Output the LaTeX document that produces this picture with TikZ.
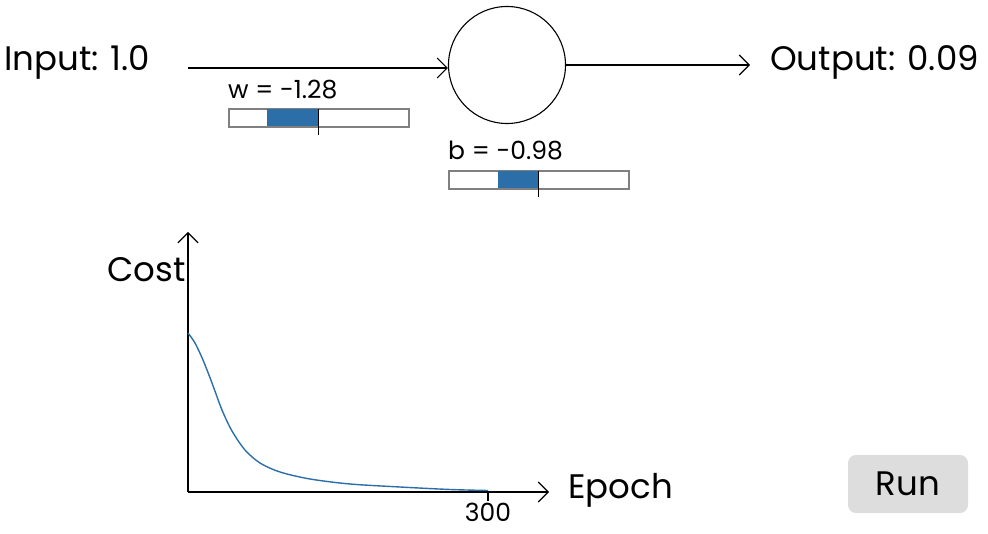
\documentclass[tikz,border=0pt]{standalone}
\usepackage{fontspec}
\setmainfont{Poppins}
\usepackage{xcolor}
\usetikzlibrary{arrows.meta, positioning}

\definecolor{barblue}{RGB}{44,111,168}
\definecolor{btngray}{RGB}{221,221,221}

\begin{document}
\begin{tikzpicture}[
    x=1pt, y=-1pt,
    big/.style={font=\fontsize{34}{38}\selectfont, inner sep=0pt},
    small/.style={font=\fontsize{25}{28}\selectfont, inner sep=0pt},
    arr/.style={-{Straight Barb[length=10pt, width=20pt]}, line width=1.1pt},
    slider/.style={draw=gray, line width=1.6pt, minimum width=180pt, minimum height=18pt,
                   inner sep=0pt},
    fillbar/.style={fill=barblue, inner sep=0pt, minimum height=17pt},
    tick/.style={line width=1.2pt},
    costline/.style={draw=barblue, line width=1.4pt},
    btn/.style={fill=btngray, rounded corners=8pt, minimum width=120pt, minimum height=58pt,
                font=\fontsize{34}{38}\selectfont},
  ]
  \useasboundingbox (0,0) rectangle (988,534);

  % neuron
  \node[draw, circle, line width=1.1pt, minimum size=117pt, inner sep=0pt] (neuron) at (507,65) {};
  \node[big, anchor=west] (inp) at (4,62) {Input: 1.0};
  \node[big, anchor=east] (outp) at (979,62) {Output: 0.09};

  \coordinate (inarrow) at (188,68);
  \draw[arr] (inarrow) -- (neuron.west |- inarrow);
  \draw[arr, shorten >=20pt] (neuron.east) -- (outp.west |- neuron.east);

  % weight slider
  \node[small, anchor=south west] (wlab) at (228,99) {w = -1.28};
  \node[slider, anchor=north west] (wbar) at (228,108) {};
  \node[fillbar, anchor=north west, minimum width=51pt] (wfill) at (267,108.7) {};
  \draw[tick] (wfill.north east) -- ++(0,26);

  % bias slider
  \node[small, anchor=south west] (blab) at (448,160) {b = -0.98};
  \node[slider, anchor=north west] (bbar) at (448,170) {};
  \node[fillbar, anchor=north west, minimum width=40pt] (bfill) at (498,170.7) {};
  \draw[tick] (bfill.north east) -- ++(0,26);

  % cost plot
  \coordinate (origin) at (188,492);
  \coordinate (ytop) at (188,232);
  \coordinate (xend) at (549,492);
  \draw[arr] (origin) -- (ytop);
  \draw[arr] (origin) -- (xend);
  \node[big, anchor=east] (costlab) at (186,270) {Cost};
  \node[big, anchor=west] (epochlab) at (568,490) {Epoch};
  \draw[tick] (488,492) -- (488,501) node[small, anchor=north, yshift=-1pt] (maxep) {300};

  \draw[costline] plot[smooth] coordinates {(188,333) (195,343) (203,360) (212,383)
    (222,410) (232,431) (245,450) (260,463) (280,472) (310,479) (350,484) (400,487)
    (450,489.5) (488,490.5)};

  % button
  \node[btn] (run) at (908,484) {Run};
\end{tikzpicture}
\end{document}
